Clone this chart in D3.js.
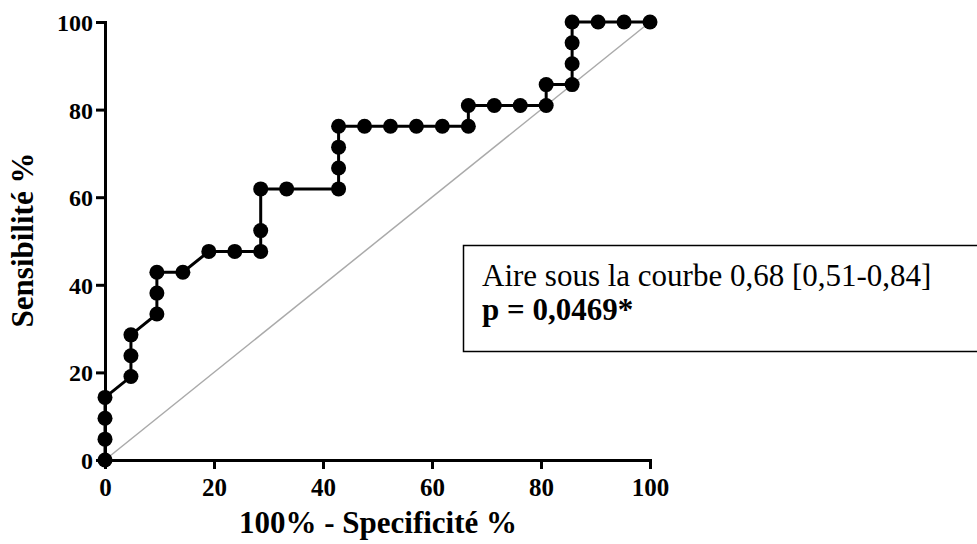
<!DOCTYPE html>
<html>
<head>
<meta charset="utf-8">
<script src="https://cdn.jsdelivr.net/npm/d3@7"></script>
</head>
<body style="margin:0">
<script>
// ROC curve points (100% - specificity, sensitivity)
let fpr = [0, 0, 0, 0, 4.76, 4.76, 4.76, 9.52, 9.52, 9.52, 14.29, 19.05, 23.81, 28.57, 28.57, 28.57,
    33.33, 42.86, 42.86, 42.86, 42.86, 47.62, 52.38, 57.14, 61.9, 66.67, 66.67, 71.43, 76.19, 80.95,
    80.95, 85.71, 85.71, 85.71, 85.71, 90.48, 95.24, 100];
let sens = [0, 4.76, 9.52, 14.29, 19.05, 23.81, 28.57, 33.33, 38.1, 42.86, 42.86, 47.62, 47.62, 47.62, 52.38, 61.9,
    61.9, 61.9, 66.67, 71.43, 76.19, 76.19, 76.19, 76.19, 76.19, 76.19, 80.95, 80.95, 80.95, 80.95,
    85.71, 85.71, 90.48, 95.24, 100, 100, 100, 100];
let ticks = [0, 20, 40, 60, 80, 100];
let xTitle = "100% - Specificité %";
let yTitle = "Sensibilité %";
let aucText = "Aire sous la courbe 0,68 [0,51-0,84]";
let pText = "p = 0,0469*";

let data = fpr.map((d, i) => ({x: d, y: sens[i]}));

let width = 977, height = 544;
let margin = {top: 22, left: 105};
let plotW = 545, plotH = 438;
let fontName = "'Liberation Serif', 'Times New Roman', Tinos";

let svg = d3.select("body").append("svg")
    .attr("width", width)
    .attr("height", height)
    .style("display", "block")
    .style("font-family", fontName);

let g = svg.append("g")
    .attr("transform", "translate(" + margin.left + "," + margin.top + ")");

let x = d3.scaleLinear().domain([0, 100]).range([0, plotW]);
let y = d3.scaleLinear().domain([0, 100]).range([plotH, 0]);

// reference diagonal
g.append("line")
    .attr("x1", x(0)).attr("y1", y(0))
    .attr("x2", x(100)).attr("y2", y(100))
    .attr("stroke", "#aaa")
    .attr("stroke-width", 1.5);

// axes
let xAxis = g.append("g")
    .attr("transform", "translate(0," + plotH + ")")
    .call(d3.axisBottom(x).tickValues(ticks).tickSize(9).tickPadding(9));
let yAxis = g.append("g")
    .call(d3.axisLeft(y).tickValues(ticks).tickSize(9).tickPadding(3));

[xAxis, yAxis].forEach(a => {
    a.attr("font-family", null).attr("font-size", null);
    a.select(".domain").attr("stroke", "#000").attr("stroke-width", 3);
    a.selectAll(".tick line").attr("stroke", "#000").attr("stroke-width", 3);
    a.selectAll(".tick text")
        .attr("fill", "#000")
        .style("font-family", fontName)
        .style("font-weight", "bold");
});
xAxis.selectAll(".tick text").style("font-size", "25px");
yAxis.selectAll(".tick text").style("font-size", "24px").attr("dy", "0.35em");

// ROC line
let line = d3.line()
    .x(d => x(d.x))
    .y(d => y(d.y));

g.append("path")
    .datum(data)
    .attr("fill", "none")
    .attr("stroke", "#000")
    .attr("stroke-width", 3)
    .attr("d", line);

g.selectAll("circle.pt")
    .data(data)
    .enter().append("circle")
    .attr("class", "pt")
    .attr("cx", d => x(d.x))
    .attr("cy", d => y(d.y))
    .attr("r", 7.5)
    .attr("fill", "#000");

// axis titles
svg.append("text")
    .attr("x", 378)
    .attr("y", 533)
    .attr("text-anchor", "middle")
    .style("font-family", fontName)
    .style("font-weight", "bold")
    .style("font-size", "31px")
    .text(xTitle);

svg.append("text")
    .attr("transform", "translate(33,240) rotate(-90)")
    .attr("text-anchor", "middle")
    .style("font-family", fontName)
    .style("font-weight", "bold")
    .style("font-size", "31px")
    .text(yTitle);

// annotation box
svg.append("rect")
    .attr("x", 463.5)
    .attr("y", 245.5)
    .attr("width", 530)
    .attr("height", 106)
    .attr("fill", "#fff")
    .attr("stroke", "#000")
    .attr("stroke-width", 1.5);

svg.append("text")
    .attr("x", 482)
    .attr("y", 286)
    .style("font-family", fontName)
    .style("font-size", "31px")
    .text(aucText);

svg.append("text")
    .attr("x", 482)
    .attr("y", 320)
    .style("font-family", fontName)
    .style("font-size", "31px")
    .style("font-weight", "bold")
    .text(pText);
</script>
</body>
</html>
